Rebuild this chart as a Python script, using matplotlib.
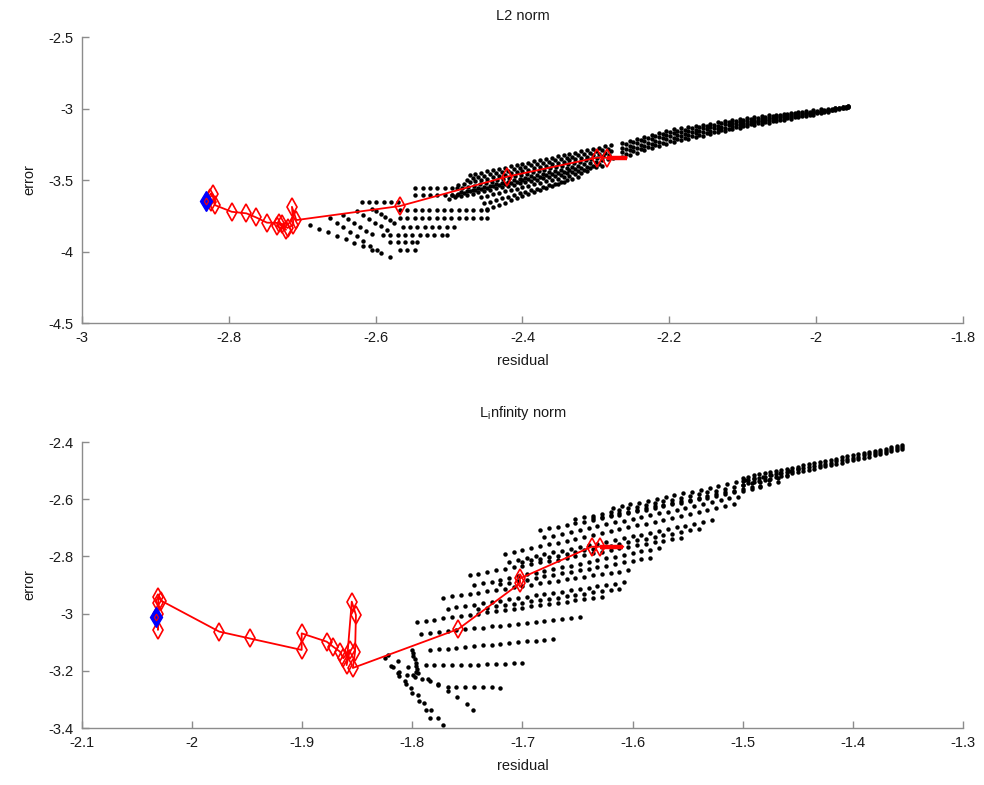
import matplotlib
matplotlib.use("Agg")
import matplotlib.pyplot as plt

plt.rcParams['font.family'] = ['Liberation Sans', 'DejaVu Sans']
plt.rcParams['axes.unicode_minus'] = False
plt.rcParams['mathtext.fontset'] = 'custom'
plt.rcParams['mathtext.rm'] = 'Liberation Sans'

# ---------------- L2 norm panel ----------------
# sweep cloud: flat rows at the lower left
l2_flat_rows = [
    ([-2.619, -2.609, -2.599, -2.589, -2.579, -2.569], [-3.652] * 6),
    ([-2.546, -2.536, -2.526, -2.516, -2.506, -2.496, -2.489], [-3.605] * 7),
    ([-2.546, -2.536, -2.526, -2.516, -2.506, -2.496, -2.489], [-3.556] * 7),
    ([-2.567, -2.557, -2.547, -2.537, -2.527, -2.517, -2.507, -2.497, -2.487, -2.477, -2.467, -2.457, -2.448], [-3.710] * 13),
    ([-2.567, -2.557, -2.547, -2.537, -2.527, -2.517, -2.507, -2.497, -2.487, -2.477, -2.467, -2.457, -2.448], [-3.768] * 13),
    ([-2.563, -2.553, -2.543, -2.533, -2.523, -2.513, -2.503, -2.493], [-3.827] * 8),
    ([-2.590, -2.580, -2.570, -2.560, -2.550, -2.540, -2.530, -2.520, -2.510, -2.503], [-3.885] * 10),
    ([-2.580, -2.570, -2.560, -2.550, -2.544], [-3.931] * 5),
    ([-2.567, -2.557, -2.546], [-3.990] * 3),
]
# sweep cloud: rising rows
l2_rise_rows = [
    ([-2.472, -2.464, -2.456, -2.448, -2.440, -2.432, -2.424, -2.416, -2.408, -2.400, -2.392, -2.384, -2.376,
      -2.368, -2.360, -2.352, -2.344, -2.336, -2.328, -2.320, -2.312, -2.304, -2.296, -2.288, -2.280],
     [-3.465, -3.456, -3.448, -3.439, -3.430, -3.421, -3.413, -3.404, -3.395, -3.386, -3.378, -3.369, -3.360,
      -3.351, -3.343, -3.334, -3.325, -3.316, -3.308, -3.299, -3.290, -3.281, -3.273, -3.264, -3.255]),
    ([-2.476, -2.468, -2.460, -2.452, -2.444, -2.436, -2.428, -2.420, -2.412, -2.404, -2.396, -2.388, -2.380,
      -2.372, -2.364, -2.356, -2.348, -2.340, -2.332, -2.324, -2.316, -2.308, -2.300, -2.292, -2.284],
     [-3.497, -3.488, -3.479, -3.470, -3.461, -3.452, -3.443, -3.434, -3.425, -3.416, -3.407, -3.398, -3.390,
      -3.381, -3.372, -3.363, -3.354, -3.345, -3.336, -3.327, -3.318, -3.309, -3.300, -3.291, -3.282]),
    ([-2.488, -2.480, -2.472, -2.464, -2.456, -2.448, -2.440, -2.432, -2.424, -2.416, -2.408, -2.400, -2.392, -2.384,
      -2.376, -2.368, -2.360, -2.352, -2.344, -2.336, -2.328, -2.320, -2.312, -2.304, -2.296, -2.288, -2.280],
     [-3.535, -3.526, -3.517, -3.508, -3.499, -3.490, -3.481, -3.472, -3.463, -3.454, -3.445, -3.436, -3.427, -3.418,
      -3.408, -3.399, -3.390, -3.381, -3.372, -3.363, -3.354, -3.345, -3.336, -3.327, -3.318, -3.309, -3.300]),
    ([-2.482, -2.474, -2.466, -2.458, -2.450, -2.442, -2.434, -2.426, -2.418, -2.410, -2.402, -2.394, -2.386,
      -2.378, -2.370, -2.362, -2.354, -2.346, -2.338, -2.330, -2.322, -2.314, -2.306, -2.298, -2.290, -2.282],
     [-3.558, -3.549, -3.539, -3.530, -3.521, -3.511, -3.502, -3.493, -3.483, -3.474, -3.465, -3.455, -3.446,
      -3.437, -3.428, -3.418, -3.409, -3.400, -3.390, -3.381, -3.372, -3.362, -3.353, -3.344, -3.334, -3.325]),
    ([-2.484, -2.476, -2.468, -2.460, -2.452, -2.444, -2.436, -2.428, -2.420, -2.412, -2.404, -2.396, -2.388, -2.380,
      -2.372, -2.364, -2.356, -2.348, -2.340, -2.332, -2.324, -2.316, -2.308, -2.300, -2.292, -2.284, -2.276],
     [-3.585, -3.576, -3.567, -3.557, -3.548, -3.539, -3.530, -3.520, -3.511, -3.502, -3.493, -3.483, -3.474, -3.465,
      -3.456, -3.447, -3.437, -3.428, -3.419, -3.410, -3.400, -3.391, -3.382, -3.373, -3.363, -3.354, -3.345]),
    ([-2.496, -2.488, -2.480, -2.472, -2.464, -2.456, -2.448, -2.440, -2.432, -2.424, -2.416, -2.408, -2.400,
      -2.392, -2.384, -2.376, -2.368, -2.360, -2.352, -2.344, -2.336, -2.328, -2.320, -2.312, -2.304, -2.296],
     [-3.605, -3.596, -3.588, -3.579, -3.571, -3.562, -3.554, -3.545, -3.536, -3.528, -3.519, -3.511, -3.502,
      -3.494, -3.485, -3.476, -3.468, -3.459, -3.451, -3.442, -3.433, -3.425, -3.416, -3.408, -3.399, -3.391]),
    ([-2.500, -2.492, -2.484, -2.476, -2.468, -2.460, -2.452, -2.444, -2.436, -2.428, -2.420, -2.412, -2.404, -2.396,
      -2.388, -2.380, -2.372, -2.364, -2.356, -2.348, -2.340, -2.332, -2.324, -2.316, -2.308, -2.300, -2.292],
     [-3.630, -3.621, -3.612, -3.603, -3.595, -3.586, -3.577, -3.568, -3.559, -3.550, -3.542, -3.533, -3.524, -3.515,
      -3.506, -3.497, -3.489, -3.480, -3.471, -3.462, -3.453, -3.444, -3.436, -3.427, -3.418, -3.409, -3.400]),
    ([-2.456, -2.448, -2.440, -2.432, -2.424, -2.416, -2.408, -2.400, -2.392, -2.384, -2.376, -2.368, -2.360,
      -2.352, -2.344, -2.336, -2.328, -2.320, -2.312],
     [-3.620, -3.610, -3.600, -3.590, -3.580, -3.570, -3.560, -3.550, -3.540, -3.530, -3.520, -3.510, -3.500,
      -3.490, -3.480, -3.470, -3.460, -3.450, -3.440]),
    ([-2.452, -2.444, -2.436, -2.428, -2.420, -2.412, -2.404, -2.396, -2.388, -2.380, -2.372, -2.364, -2.356,
      -2.348, -2.340, -2.332, -2.324],
     [-3.662, -3.651, -3.639, -3.628, -3.617, -3.605, -3.594, -3.583, -3.571, -3.560, -3.549, -3.537, -3.526,
      -3.514, -3.503, -3.492, -3.480]),
    ([-2.448, -2.440, -2.432, -2.424, -2.416, -2.408, -2.400, -2.392, -2.384, -2.376, -2.368, -2.360, -2.352, -2.344],
     [-3.700, -3.686, -3.672, -3.658, -3.643, -3.629, -3.615, -3.601, -3.587, -3.572, -3.558, -3.544, -3.530, -3.515]),
]
# sweep cloud: fan of rays at the far left
l2_fan_rows = [
    ([-2.689, -2.677, -2.665, -2.653, -2.641, -2.629, -2.617, -2.605, -2.593, -2.580],
     [-3.815, -3.840, -3.864, -3.889, -3.913, -3.938, -3.962, -3.987, -4.011, -4.036]),
    ([-2.662, -2.653, -2.644, -2.635, -2.626, -2.617, -2.607, -2.598],
     [-3.766, -3.798, -3.830, -3.862, -3.894, -3.926, -3.958, -3.990]),
    ([-2.645, -2.637, -2.629, -2.621, -2.613, -2.605], [-3.745, -3.772, -3.799, -3.826, -3.853, -3.880]),
    ([-2.625, -2.617, -2.609, -2.601, -2.593, -2.585], [-3.720, -3.746, -3.772, -3.798, -3.824, -3.850]),
    ([-2.605, -2.599, -2.593, -2.587, -2.581, -2.575], [-3.700, -3.720, -3.740, -3.760, -3.780, -3.800]),
]
# sweep cloud: converged band toward the upper right (two staggered columns of tracks)
l2_band_x = [-2.264, -2.254, -2.244, -2.234, -2.224, -2.214, -2.204, -2.194, -2.184, -2.174, -2.164,
             -2.154, -2.144, -2.134, -2.124, -2.114, -2.104, -2.094, -2.084, -2.074, -2.064, -2.054,
             -2.044, -2.034, -2.024, -2.014, -2.004, -1.994, -1.984, -1.974, -1.964, -1.956]
l2_band_y = [
    [-3.240, -3.226, -3.212, -3.198, -3.184, -3.170, -3.156, -3.145, -3.137, -3.129, -3.121,
     -3.113, -3.105, -3.097, -3.089, -3.081, -3.073, -3.066, -3.060, -3.054, -3.048, -3.042,
     -3.036, -3.030, -3.024, -3.018, -3.012, -3.006, -3.000, -2.993, -2.987, -2.982],
    [-3.273, -3.259, -3.244, -3.230, -3.215, -3.201, -3.186, -3.174, -3.165, -3.156, -3.147,
     -3.138, -3.129, -3.120, -3.111, -3.102, -3.093, -3.086, -3.079, -3.072, -3.065, -3.058,
     -3.051, -3.044, -3.037, -3.030, -3.023, -3.015, -3.007, -2.999, -2.991, -2.985],
    [-3.307, -3.291, -3.277, -3.261, -3.247, -3.231, -3.216, -3.204, -3.194, -3.184, -3.174,
     -3.164, -3.154, -3.144, -3.134, -3.124, -3.114, -3.105, -3.097, -3.089, -3.081, -3.073,
     -3.065, -3.057, -3.049, -3.041, -3.033, -3.024, -3.015, -3.005, -2.995, -2.987],
    [-3.340, -3.324, -3.309, -3.293, -3.278, -3.262, -3.246, -3.233, -3.222, -3.211, -3.200,
     -3.189, -3.178, -3.167, -3.156, -3.145, -3.134, -3.125, -3.116, -3.107, -3.098, -3.089,
     -3.080, -3.071, -3.062, -3.053, -3.044, -3.033, -3.022, -3.011, -2.999, -2.990],
]
l2_band_x2 = [-2.259, -2.249, -2.239, -2.229, -2.219, -2.209, -2.199, -2.189, -2.179, -2.169, -2.159,
              -2.149, -2.139, -2.129, -2.119, -2.109, -2.099, -2.089, -2.079, -2.069, -2.059, -2.049,
              -2.039, -2.029, -2.019, -2.009, -1.999, -1.989, -1.979, -1.969, -1.959]
l2_band_y2 = [
    [-3.250, -3.235, -3.221, -3.207, -3.193, -3.178, -3.165, -3.155, -3.147, -3.138, -3.130,
     -3.121, -3.113, -3.104, -3.096, -3.087, -3.080, -3.073, -3.066, -3.060, -3.053, -3.047,
     -3.040, -3.034, -3.027, -3.021, -3.014, -3.007, -3.000, -2.993, -2.986],
    [-3.283, -3.268, -3.253, -3.238, -3.224, -3.209, -3.195, -3.184, -3.175, -3.165, -3.156,
     -3.146, -3.137, -3.127, -3.118, -3.108, -3.100, -3.092, -3.084, -3.077, -3.069, -3.062,
     -3.054, -3.047, -3.039, -3.032, -3.024, -3.015, -3.007, -2.998, -2.990],
    [-3.316, -3.300, -3.285, -3.270, -3.255, -3.239, -3.225, -3.213, -3.203, -3.192, -3.182,
     -3.171, -3.161, -3.150, -3.140, -3.129, -3.120, -3.111, -3.102, -3.094, -3.085, -3.077,
     -3.068, -3.060, -3.051, -3.043, -3.034, -3.024, -3.013, -3.003, -2.993],
]
# optimisation path (starts at the right, ends at the best point)
l2_path_x = [-2.258, -2.285, -2.299, -2.4215, -2.567, -2.708, -2.714, -2.712, -2.720, -2.728, -2.735,
             -2.722, -2.732, -2.748, -2.763, -2.776, -2.796, -2.819, -2.822, -2.826, -2.824]
l2_path_y = [-3.344, -3.344, -3.344, -3.477, -3.682, -3.780, -3.687, -3.812, -3.835, -3.805, -3.822,
             -3.848, -3.800, -3.798, -3.761, -3.733, -3.722, -3.675, -3.600, -3.625, -3.655]
l2_best = (-2.831, -3.645)

# ---------------- L-infinity norm panel ----------------
linf_rows = [
    ([-1.618, -1.610, -1.602, -1.594, -1.586, -1.578, -1.570, -1.562, -1.554, -1.546, -1.538,
      -1.530, -1.522, -1.514, -1.506, -1.498, -1.490, -1.482, -1.474, -1.466, -1.458, -1.450],
     [-2.631, -2.625, -2.618, -2.612, -2.605, -2.599, -2.592, -2.586, -2.579, -2.573, -2.566,
      -2.560, -2.553, -2.547, -2.540, -2.534, -2.527, -2.521, -2.514, -2.508, -2.501, -2.495]),
    ([-1.652, -1.644, -1.636, -1.628, -1.620, -1.612, -1.604, -1.596, -1.588, -1.580, -1.572, -1.564, -1.556,
      -1.548, -1.540, -1.532, -1.524, -1.516, -1.508, -1.500, -1.492, -1.484, -1.476, -1.468, -1.460],
     [-2.669, -2.663, -2.657, -2.650, -2.644, -2.638, -2.632, -2.626, -2.619, -2.613, -2.607, -2.601, -2.594,
      -2.588, -2.582, -2.576, -2.570, -2.563, -2.557, -2.551, -2.545, -2.539, -2.532, -2.526, -2.520]),
    ([-1.636, -1.628, -1.620, -1.612, -1.604, -1.596, -1.588, -1.580, -1.572, -1.564, -1.556,
      -1.548, -1.540, -1.532, -1.524, -1.516, -1.508, -1.500, -1.492, -1.484, -1.476, -1.468],
     [-2.667, -2.661, -2.655, -2.649, -2.643, -2.637, -2.631, -2.625, -2.619, -2.613, -2.607,
      -2.601, -2.594, -2.588, -2.582, -2.576, -2.570, -2.564, -2.558, -2.552, -2.546, -2.540]),
    ([-1.684, -1.676, -1.668, -1.660, -1.652, -1.644, -1.636, -1.628, -1.620, -1.612, -1.604, -1.596, -1.588,
      -1.580, -1.572, -1.564, -1.556, -1.548, -1.540, -1.532, -1.524, -1.516, -1.508, -1.500, -1.492, -1.484],
     [-2.708, -2.702, -2.696, -2.690, -2.684, -2.678, -2.672, -2.666, -2.660, -2.654, -2.648, -2.642, -2.636,
      -2.630, -2.624, -2.618, -2.612, -2.606, -2.600, -2.594, -2.588, -2.582, -2.576, -2.570, -2.564, -2.558]),
    ([-1.680, -1.672, -1.664, -1.656, -1.648, -1.640, -1.632, -1.624, -1.616, -1.608, -1.600, -1.592,
      -1.584, -1.576, -1.568, -1.560, -1.552, -1.544, -1.536, -1.528, -1.520, -1.512, -1.504],
     [-2.733, -2.727, -2.720, -2.714, -2.707, -2.701, -2.694, -2.688, -2.681, -2.675, -2.668, -2.662,
      -2.656, -2.649, -2.643, -2.636, -2.630, -2.623, -2.617, -2.610, -2.604, -2.597, -2.591]),
    ([-1.716, -1.708, -1.700, -1.692, -1.684, -1.676, -1.668, -1.660, -1.652, -1.644, -1.636, -1.628, -1.620,
      -1.612, -1.604, -1.596, -1.588, -1.580, -1.572, -1.564, -1.556, -1.548, -1.540, -1.532, -1.524, -1.516, -1.508],
     [-2.792, -2.785, -2.779, -2.772, -2.765, -2.758, -2.752, -2.745, -2.738, -2.732, -2.725, -2.718, -2.712,
      -2.705, -2.698, -2.691, -2.685, -2.678, -2.671, -2.665, -2.658, -2.651, -2.645, -2.638, -2.631, -2.624, -2.618]),
    ([-1.712, -1.704, -1.696, -1.688, -1.680, -1.672, -1.664, -1.656, -1.648, -1.640, -1.632, -1.624,
      -1.616, -1.608, -1.600, -1.592, -1.584, -1.576, -1.568, -1.560, -1.552, -1.544, -1.536, -1.528],
     [-2.818, -2.812, -2.805, -2.799, -2.793, -2.786, -2.780, -2.774, -2.768, -2.761, -2.755, -2.749,
      -2.742, -2.736, -2.730, -2.724, -2.717, -2.711, -2.705, -2.698, -2.692, -2.686, -2.679, -2.673]),
    ([-1.700, -1.692, -1.684, -1.676, -1.668, -1.660, -1.652, -1.644, -1.636, -1.628, -1.620,
      -1.612, -1.604, -1.596, -1.588, -1.580, -1.572, -1.564, -1.556, -1.548, -1.540],
     [-2.820, -2.814, -2.808, -2.802, -2.797, -2.791, -2.785, -2.779, -2.773, -2.767, -2.762,
      -2.756, -2.750, -2.744, -2.738, -2.732, -2.726, -2.721, -2.715, -2.709, -2.703]),
    ([-1.748, -1.740, -1.732, -1.724, -1.716, -1.708, -1.700, -1.692, -1.684, -1.676, -1.668, -1.660, -1.652,
      -1.644, -1.636, -1.628, -1.620, -1.612, -1.604, -1.596, -1.588, -1.580, -1.572, -1.564, -1.556],
     [-2.865, -2.860, -2.854, -2.849, -2.843, -2.838, -2.832, -2.827, -2.821, -2.816, -2.811, -2.805, -2.800,
      -2.794, -2.789, -2.783, -2.778, -2.772, -2.767, -2.761, -2.756, -2.750, -2.745, -2.740, -2.734]),
    ([-1.744, -1.736, -1.728, -1.720, -1.712, -1.704, -1.696, -1.688, -1.680, -1.672, -1.664,
      -1.656, -1.648, -1.640, -1.632, -1.624, -1.616, -1.608, -1.600, -1.592, -1.584, -1.576],
     [-2.900, -2.894, -2.888, -2.881, -2.875, -2.869, -2.863, -2.857, -2.850, -2.844, -2.838,
      -2.832, -2.826, -2.819, -2.813, -2.807, -2.801, -2.795, -2.788, -2.782, -2.776, -2.770]),
    ([-1.720, -1.712, -1.704, -1.696, -1.688, -1.680, -1.672, -1.664, -1.656, -1.648, -1.640,
      -1.632, -1.624, -1.616, -1.608, -1.600, -1.592, -1.584],
     [-2.898, -2.892, -2.887, -2.881, -2.876, -2.870, -2.865, -2.859, -2.854, -2.848, -2.843,
      -2.837, -2.832, -2.826, -2.821, -2.815, -2.810, -2.804]),
    ([-1.772, -1.764, -1.756, -1.748, -1.740, -1.732, -1.724, -1.716, -1.708, -1.700, -1.692,
      -1.684, -1.676, -1.668, -1.660, -1.652, -1.644, -1.636, -1.628, -1.620, -1.612, -1.604],
     [-2.945, -2.940, -2.936, -2.931, -2.927, -2.922, -2.917, -2.913, -2.908, -2.903, -2.899,
      -2.894, -2.890, -2.885, -2.880, -2.876, -2.871, -2.866, -2.862, -2.857, -2.853, -2.848]),
    ([-1.768, -1.760, -1.752, -1.744, -1.736, -1.728, -1.720, -1.712, -1.704, -1.696, -1.688,
      -1.680, -1.672, -1.664, -1.656, -1.648, -1.640, -1.632, -1.624, -1.616, -1.608],
     [-2.983, -2.978, -2.974, -2.969, -2.964, -2.960, -2.955, -2.950, -2.946, -2.941, -2.936,
      -2.932, -2.927, -2.923, -2.918, -2.913, -2.909, -2.904, -2.899, -2.895, -2.890]),
    ([-1.740, -1.732, -1.724, -1.716, -1.708, -1.700, -1.692, -1.684, -1.676, -1.668, -1.660,
      -1.652, -1.644, -1.636, -1.628, -1.620, -1.612],
     [-2.984, -2.980, -2.975, -2.971, -2.966, -2.962, -2.957, -2.953, -2.949, -2.944, -2.940,
      -2.935, -2.931, -2.926, -2.922, -2.917, -2.913]),
    ([-1.796, -1.788, -1.780, -1.772, -1.764, -1.756, -1.748, -1.740, -1.732, -1.724, -1.716,
      -1.708, -1.700, -1.692, -1.684, -1.676, -1.668, -1.660, -1.652, -1.644, -1.636, -1.628],
     [-3.029, -3.025, -3.021, -3.017, -3.012, -3.008, -3.004, -3.000, -2.996, -2.992, -2.988,
      -2.983, -2.979, -2.975, -2.971, -2.967, -2.963, -2.959, -2.954, -2.950, -2.946, -2.942]),
    ([-1.792, -1.784, -1.776, -1.768, -1.760, -1.752, -1.744, -1.736, -1.728, -1.720,
      -1.712, -1.704, -1.696, -1.688, -1.680, -1.672, -1.664, -1.656, -1.648],
     [-3.072, -3.069, -3.065, -3.062, -3.059, -3.055, -3.052, -3.049, -3.045, -3.042,
      -3.039, -3.035, -3.032, -3.029, -3.025, -3.022, -3.019, -3.015, -3.012]),
    ([-1.784, -1.776, -1.768, -1.760, -1.752, -1.744, -1.736, -1.728, -1.720, -1.712, -1.704, -1.696,
      -1.688, -1.680, -1.672],
     [-3.127, -3.124, -3.122, -3.119, -3.116, -3.113, -3.111, -3.108, -3.105, -3.103, -3.100, -3.097,
      -3.094, -3.092, -3.089]),
    ([-1.788, -1.780, -1.772, -1.764, -1.756, -1.748, -1.740, -1.732, -1.724, -1.716, -1.708, -1.700],
     [-3.180, -3.180, -3.180, -3.179, -3.179, -3.178, -3.178, -3.177, -3.176, -3.175, -3.174, -3.173]),
    ([-1.768, -1.760, -1.752, -1.744, -1.736, -1.728, -1.720],
     [-3.255, -3.256, -3.257, -3.257, -3.258, -3.258, -3.259]),
]
linf_fan_rows = [
    ([-1.825, -1.819, -1.813, -1.807, -1.801, -1.795, -1.789, -1.783, -1.777, -1.772],
     [-3.156, -3.182, -3.208, -3.234, -3.260, -3.286, -3.312, -3.338, -3.364, -3.389]),
    ([-1.822, -1.813, -1.804, -1.795, -1.786, -1.777, -1.768, -1.759, -1.750, -1.745],
     [-3.145, -3.166, -3.187, -3.208, -3.230, -3.251, -3.272, -3.293, -3.315, -3.337]),
    ([-1.818, -1.812, -1.806, -1.800, -1.794, -1.788, -1.784],
     [-3.187, -3.217, -3.247, -3.277, -3.307, -3.337, -3.365]),
    ([-1.800, -1.799, -1.799, -1.798, -1.797, -1.797, -1.796, -1.797, -1.799],
     [-3.127, -3.138, -3.149, -3.160, -3.171, -3.182, -3.193, -3.204, -3.215]),
    ([-1.812, -1.805, -1.798, -1.791, -1.784, -1.777],
     [-3.205, -3.213, -3.221, -3.229, -3.237, -3.245]),
]
linf_band_x = [-1.500, -1.495, -1.490, -1.485, -1.480, -1.475, -1.470, -1.465, -1.460, -1.455,
               -1.450, -1.445, -1.440, -1.435, -1.430, -1.425, -1.420, -1.415, -1.410, -1.405,
               -1.400, -1.395, -1.390, -1.385, -1.380, -1.375, -1.370, -1.365, -1.360, -1.355]
linf_band_y = [
    [-2.525, -2.521, -2.517, -2.513, -2.509, -2.505, -2.501, -2.497, -2.494, -2.490,
     -2.486, -2.482, -2.478, -2.474, -2.470, -2.466, -2.462, -2.458, -2.454, -2.450,
     -2.446, -2.442, -2.439, -2.435, -2.431, -2.427, -2.423, -2.419, -2.415, -2.411],
    [-2.537, -2.533, -2.529, -2.525, -2.521, -2.517, -2.512, -2.508, -2.505, -2.500,
     -2.496, -2.492, -2.488, -2.484, -2.480, -2.476, -2.472, -2.467, -2.463, -2.459,
     -2.455, -2.451, -2.447, -2.443, -2.439, -2.435, -2.431, -2.426, -2.422, -2.418],
    [-2.549, -2.545, -2.540, -2.536, -2.532, -2.528, -2.523, -2.519, -2.515, -2.510,
     -2.506, -2.502, -2.498, -2.493, -2.489, -2.485, -2.481, -2.476, -2.472, -2.468,
     -2.463, -2.459, -2.455, -2.451, -2.446, -2.442, -2.438, -2.433, -2.429, -2.425],
]
linf_path_x = [-1.6085, -1.6296, -1.6372, -1.7023, -1.7023, -1.7583, -1.8540, -1.8520, -1.8512, -1.8550,
               -1.8597, -1.8566, -1.8627, -1.8657, -1.8718, -1.8778, -1.9005, -1.9005, -1.9474, -1.9753,
               -2.0280, -2.0307, -2.0307, -2.0310, -2.0307]
linf_path_y = [-2.766, -2.766, -2.766, -2.877, -2.894, -3.054, -3.190, -3.133, -3.005, -2.958,
               -3.180, -3.127, -3.156, -3.133, -3.116, -3.098, -3.069, -3.127, -3.087, -3.063,
               -2.955, -2.941, -2.964, -3.057, -3.000]
linf_best = (-2.0328, -3.013)

l2_xticks = [-3, -2.8, -2.6, -2.4, -2.2, -2, -1.8]
l2_yticks = [-4.5, -4, -3.5, -3, -2.5]
linf_xticks = [-2.1, -2, -1.9, -1.8, -1.7, -1.6, -1.5, -1.4, -1.3]
linf_yticks = [-3.4, -3.2, -3, -2.8, -2.6, -2.4]

GREY = '#8c8c8c'
DOT = dict(ls='none', marker='o', ms=3.2, mfc='black', mec='none')


def draw_cloud(ax, rows, bands):
    for xs, ys in rows:
        ax.plot(xs, ys, **DOT)
    for band_x, band_ys in bands:
        for ys in band_ys:
            ax.plot(band_x, ys, **DOT)


def draw_path(ax, px, py, best):
    ax.plot(px[:2], py[:2], color='red', lw=3.2, solid_capstyle='butt')
    ax.plot(px, py, color='red', lw=1.3, marker='d', ms=9, mfc='none', mec='red', mew=1.2,
            markevery=list(range(1, len(px))))
    ax.plot([best[0]], [best[1]], ls='none', marker='d', ms=10, mfc='blue', mec='blue')
    ax.plot([best[0]], [best[1]], ls='none', marker='d', ms=3.5, mfc='none', mec='red', mew=0.8)


def style(ax, xticks, yticks, title, title_pad):
    ax.set_xlim(xticks[0], xticks[-1])
    ax.set_ylim(yticks[0], yticks[-1])
    ax.set_xticks(xticks)
    ax.set_yticks(yticks)
    ax.set_xticklabels([f'{v:g}' for v in xticks])
    ax.set_yticklabels([f'{v:g}' for v in yticks])
    for s in ('top', 'right'):
        ax.spines[s].set_visible(False)
    for s in ('left', 'bottom'):
        ax.spines[s].set_color(GREY)
        ax.spines[s].set_linewidth(1.0)
    ax.tick_params(direction='in', length=5, width=1.0, color=GREY, labelsize=10.5,
                   labelcolor='#1a1a1a', pad=6)
    ax.set_xlabel('residual', fontsize=10.5, color='#1a1a1a', labelpad=6)
    ax.set_ylabel('error', fontsize=10.5, color='#1a1a1a', labelpad=9)
    ax.set_title(title, fontsize=10.5, color='#1a1a1a', pad=title_pad)


fig = plt.figure(figsize=(9.84, 7.85), dpi=100)
ax1 = fig.add_axes([0.0833, 0.5885, 0.8953, 0.3643])
ax2 = fig.add_axes([0.0833, 0.0726, 0.8953, 0.3643])

draw_cloud(ax1, l2_flat_rows + l2_rise_rows + l2_fan_rows,
           [(l2_band_x, l2_band_y), (l2_band_x2, l2_band_y2)])
draw_path(ax1, l2_path_x, l2_path_y, l2_best)
style(ax1, l2_xticks, l2_yticks, 'L2 norm', 12)

draw_cloud(ax2, linf_rows + linf_fan_rows, [(linf_band_x, linf_band_y)])
draw_path(ax2, linf_path_x, linf_path_y, linf_best)
style(ax2, linf_xticks, linf_yticks, r'L$_{\mathrm{i}}$nfinity norm', 18)

fig.savefig('out.png', dpi=100)
